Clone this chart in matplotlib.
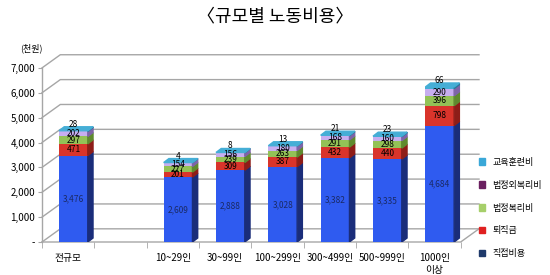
import matplotlib.pyplot as plt
from matplotlib.patches import Polygon, Patch

plt.rcParams['font.family'] = ['Noto Sans CJK KR', 'DejaVu Sans']

# 데이터 (천원)
categories = ['전규모', '', '10~29인', '30~99인', '100~299인', '300~499인', '500~999인', '1000인\n이상']
direct = [3476, 0, 2609, 2888, 3028, 3382, 3335, 4684]
retire = [471, 0, 201, 309, 387, 432, 440, 798]
legal_welfare = [297, 0, 227, 239, 263, 291, 298, 396]
extra_welfare = [202, 0, 154, 156, 180, 168, 160, 290]
training = [28, 0, 4, 8, 13, 21, 23, 66]

series_names = ['직접비용', '퇴직금', '법정복리비', '법정외복리비', '교육훈련비']
series = [direct, retire, legal_welfare, extra_welfare, training]
front_colors = ['#2f5bf0', '#d9342b', '#93c256', '#c7aef0', '#45aed6']
side_colors = ['#1a2d7a', '#8e1d18', '#5f8a2e', '#7e64a8', '#2a7b9c']
legend_colors = ['#1f3a6b', '#e02020', '#a6cf6a', '#6b2060', '#3aa8d8']
text_colors = ['#1a2a66', 'black', 'black', 'black', 'black']

yticks = [0, 1000, 2000, 3000, 4000, 5000, 6000, 7000]
ytick_labels = ['-', '1,000', '2,000', '3,000', '4,000', '5,000', '6,000', '7,000']

fig = plt.figure(figsize=(5.5, 2.75), dpi=100)
ax = fig.add_axes([42 / 550, 33 / 275, 437 / 550, 189 / 275])
n = len(categories)
gdx, gdy = 0.35, 530      # profondeur du mur du fond
bdx, bdy = 0.1, 160       # profondeur des barres
w = 0.55
ax.set_xlim(-0.5, n - 0.5 + gdx)
ax.set_ylim(0, 7600)
for s in ax.spines.values():
    s.set_visible(False)

# grille sur le mur du fond
for v in yticks:
    ax.plot([-0.5, -0.5 + gdx, n - 0.5 + gdx], [v, v + gdy, v + gdy],
            color='#a6a6a6', lw=1, clip_on=False, zorder=0)
ax.plot([-0.5, -0.5], [0, 7000], color='#a6a6a6', lw=1, clip_on=False, zorder=0)
ax.plot([-0.5, n - 0.5, n - 0.5 + gdx], [0, 0, gdy], color='#a6a6a6', lw=1,
        clip_on=False, zorder=0)

# barres empilées en pseudo-3D
for i in range(n):
    if sum(s[i] for s in series) == 0:
        continue
    x = i + 0.1
    bottom = 0
    for k, s in enumerate(series):
        v = s[i]
        ax.bar(x, v, w, bottom=bottom, color=front_colors[k], zorder=3)
        side = [(x + w / 2, bottom), (x + w / 2 + bdx, bottom + bdy),
                (x + w / 2 + bdx, bottom + v + bdy), (x + w / 2, bottom + v)]
        ax.add_patch(Polygon(side, closed=True, color=side_colors[k], zorder=3))
        if k < len(series) - 1:
            ax.text(x, bottom + v / 2, f'{v:,}', ha='center', va='center',
                    fontsize=6, color=text_colors[k], zorder=5)
        bottom += v
    top = [(x - w / 2, bottom), (x - w / 2 + bdx, bottom + bdy),
           (x + w / 2 + bdx, bottom + bdy), (x + w / 2, bottom)]
    ax.add_patch(Polygon(top, closed=True, color=front_colors[-1], zorder=4))
    ax.text(x, bottom + bdy / 2, f'{training[i]:,}', ha='center', va='bottom',
            fontsize=6, color='black', zorder=5)

ax.set_yticks(yticks)
ax.set_yticklabels(ytick_labels, fontsize=7)
ax.tick_params(axis='y', length=3, color='#a6a6a6', pad=2)
ax.set_xticks(range(n))
ax.set_xticklabels(categories, fontsize=7, linespacing=1.2)
ax.set_xticks([i - 0.5 for i in range(n + 1)], minor=True)
ax.tick_params(axis='x', which='major', length=0, pad=8)
ax.tick_params(axis='x', which='minor', length=4, color='#a6a6a6')

fig.text(20 / 550, 1 - 48 / 275, '(천원)', fontsize=6.5, ha='left', va='center')
fig.text(0.5, 1 - 16 / 275, '〈규모별 노동비용〉', fontsize=13, ha='center', va='center')

handles = [Patch(color=legend_colors[k], label=series_names[k]) for k in range(4, -1, -1)]
fig.legend(handles=handles, loc='center left', bbox_to_anchor=(474 / 550, 1 - 208 / 275),
           frameon=False, fontsize=6.5, handlelength=0.7, handleheight=0.7,
           labelspacing=1.55, handletextpad=0.8, borderpad=0)

fig.savefig('out.png', dpi=100)
